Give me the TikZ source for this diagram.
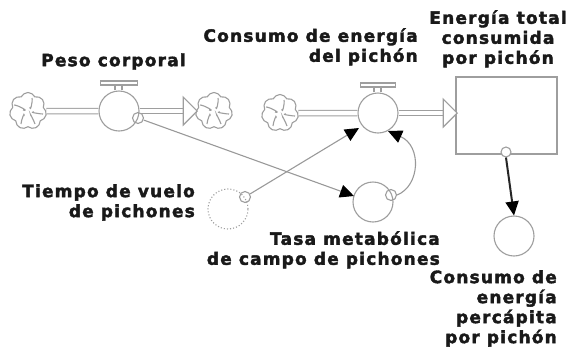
\documentclass[tikz,border=0pt]{standalone}
\usepackage{fontspec}
\setmainfont{DejaVu Sans}[BoldFeatures={FakeBold=2.2,LetterSpace=7}]
\usetikzlibrary{arrows.meta,shapes.symbols,shapes.geometric}

\begin{document}
\begin{tikzpicture}[x=1pt,y=-1pt,
gr/.style={draw=black!38,line width=1.1pt},
sky/.style={gr,shape=cloud,cloud puffs=7,cloud puff arc=130,aspect=1,minimum size=37pt,inner sep=0pt,fill=white},
var/.style={gr,circle,minimum size=40pt,inner sep=0pt,fill=white},
tap/.style={gr,circle,minimum size=11pt,inner sep=0pt},
pipe/.style={draw=black!38,line width=6.5pt,postaction={draw=white,line width=4.5pt}},
head/.style={gr,isosceles triangle,isosceles triangle apex angle=90,minimum width=28pt,minimum height=14pt,inner sep=0pt,fill=white,anchor=apex},
link/.style={draw=black!40,line width=1.1pt,-{Triangle[length=14pt,width=13pt,black]}},
lab/.style={font=\bfseries\fontsize{17}{20}\selectfont,inner sep=0pt,align=right,text=black!90}]
\useasboundingbox (0,0) rectangle (568,349);
% clouds, pipes
\node[sky] (c1) at (28,111) {};
\node[sky] (c2) at (214,111) {};
\node[sky] (c3) at (280,113) {};
\node[var] (v1) at (119,111) {};
\node[var] (v2) at (378,113) {};
\node[gr,minimum width=101pt,minimum height=77pt,inner sep=0pt] (st) at (506.5,115.5) {};
\coordinate (h1) at (198,111);
\coordinate (h2) at (458,113);
\draw[pipe] (c1.east) -- (v1.west);
\draw[pipe] (v1.east) -- (185,111);
\draw[pipe] (c3.east) -- (v2.west);
\draw[pipe] (v2.east) -- (445,113);
\node[head] (a1) at (h1) {};
\node[head] (a2) at (h2) {};
\foreach \c in {c1,c2,c3} {
    \draw[gr] (\c.center) ++(-14,-6) .. controls +(4,0) and +(7,2) .. ++(9,5);
    \draw[gr] (\c.center) ++(4,-13) .. controls +(1,3) and +(0,6) .. ++(-2,9);
    \draw[gr] (\c.center) ++(15,3) .. controls +(-3,0) and +(-6,0) .. ++(-9,-2);
    \draw[gr] (\c.center) ++(7,13) .. controls +(-1,-3) and +(-2,-5) .. ++(-4,-8);
    \draw[gr] (\c.center) ++(-7,13) .. controls +(0,-3) and +(1,-6) .. ++(3,-8);
}
% valves
\foreach \v/\w in {v1/37,v2/35} {
    \node[gr,minimum width=\w pt,minimum height=4pt,inner sep=0pt] (\v top) at ([yshift=28pt]\v.center) {};
    \draw[gr] ([xshift=-4pt]\v top.south) -- ([xshift=-4pt]\v.north);
    \draw[gr] ([xshift=3pt]\v top.south) -- ([xshift=3pt]\v.north);
}
\node[var,dotted,fill=none] (tv) at (228,209) {};
\node[var] (tm) at (373,202) {};
\node[var] (ce) at (514,236) {};
\node[tap] (t1) at (138,118) {};
\node[tap] (t2) at (245,197) {};
\node[tap] (t3) at (391,195) {};
\node[tap,minimum size=10pt,fill=white] (t4) at (506,152) {};
% links
\coordinate (e1) at (354,196);
\coordinate (e2) at (359,128);
\coordinate (e3) at (388,131);
\draw[link] (t1) -- (e1);
\draw[link] (t2) -- (e2);
\draw[link] (t3.east) .. controls (420,186) and (422,146) .. (e3);
\draw[link,draw=black!85,line width=2pt] (t4.south) -- (ce.north);
% labels
\node[lab,align=center,anchor=north] (l1) at (498,10) {Energía total\\consumida\\por pichón};
\node[lab,anchor=north east] (l2) at (418,28) {Consumo de energía\\del pichón};
\node[lab] (l3) at (113.5,61.5) {Peso corporal};
\node[lab,anchor=north east] (l4) at (195,184) {Tiempo de vuelo\\de pichones};
\node[lab,anchor=north east] (l5) at (440,231) {Tasa metabólica\\de campo de pichones};
\node[lab,anchor=north east] (l6) at (557,270) {Consumo de\\energía\\percápita\\por pichón};
\end{tikzpicture}
\end{document}
